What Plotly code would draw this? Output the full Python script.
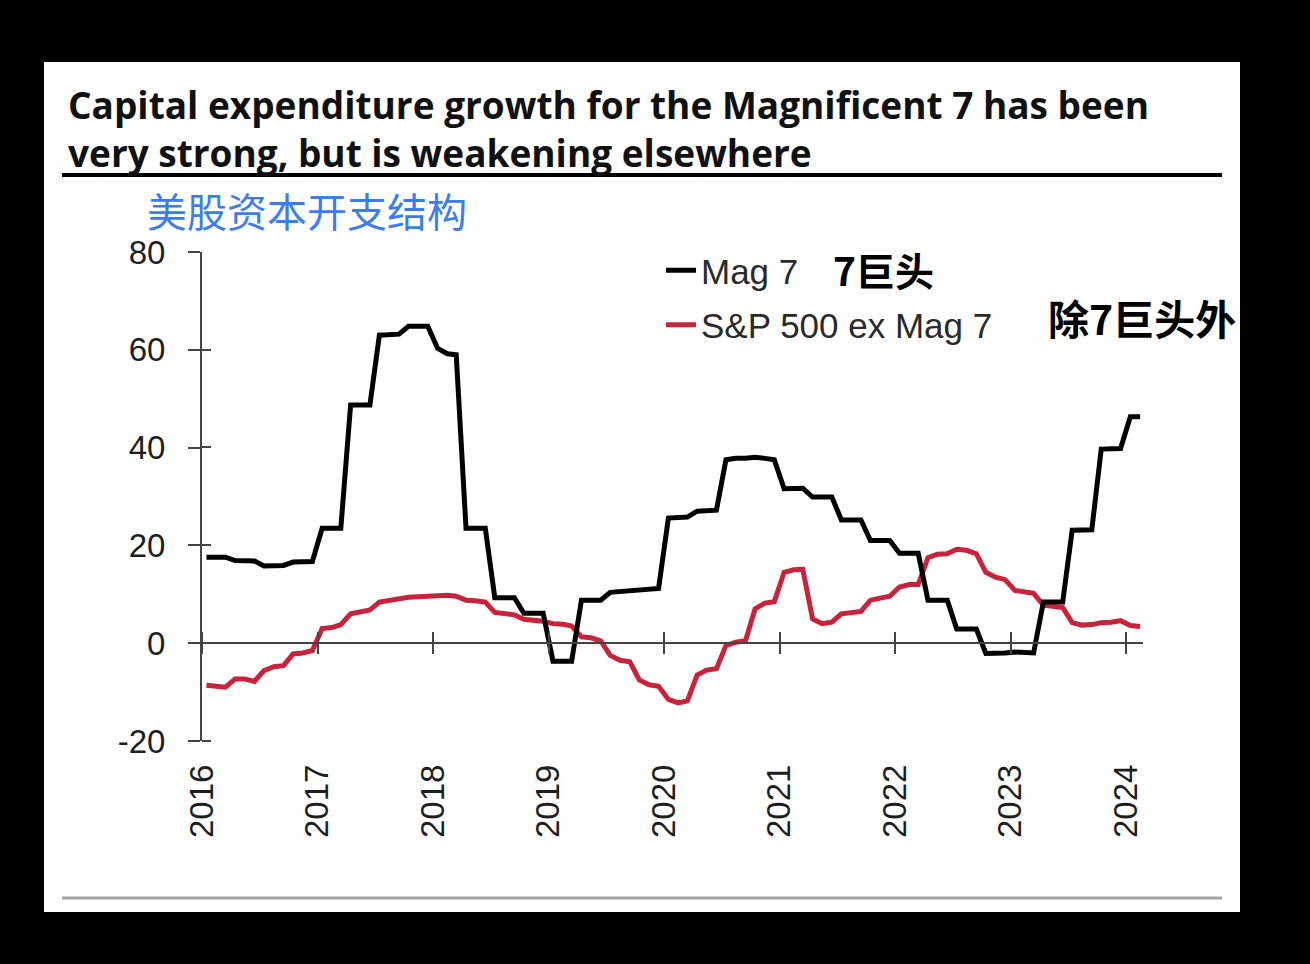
import pandas as pd
import plotly.graph_objects as go

# ---------------- data ----------------
months = (pd.date_range("2016-01-01", periods=98, freq="MS") + pd.Timedelta(days=14)).strftime("%Y-%m-%d").tolist()

mag7 = [17.6, 17.6, 17.6, 16.9, 16.8, 16.8, 15.8, 15.8, 15.9, 16.6, 16.7, 16.7,
        23.5, 23.5, 23.5, 48.7, 48.7, 48.7, 63.0, 63.0, 63.2, 64.8, 64.8, 64.8,
        60.3, 59.2, 59.0, 23.5, 23.5, 23.5, 9.3, 9.3, 9.3, 6.1, 6.1, 6.1,
        -3.7, -3.7, -3.7, 8.8, 8.8, 8.8, 10.4, 10.6, 10.6, 11.0, 11.2, 11.2,
        25.6, 25.6, 25.8, 27.0, 27.0, 27.2, 37.5, 37.8, 37.8, 38.0, 37.8, 37.5,
        31.6, 31.7, 31.7, 29.9, 29.9, 29.9, 25.2, 25.2, 25.2, 21.0, 21.0, 21.0,
        18.4, 18.4, 18.4, 8.8, 8.8, 8.8, 2.9, 2.9, 2.9, -2.1, -2.1, -2.0,
        -1.8, -1.8, -2.0, 8.4, 8.4, 8.4, 23.1, 23.1, 23.2, 39.7, 39.8, 39.8,
        46.3, 46.3]

sp500_ex_mag7 = [-8.6, -8.7, -9.0, -7.3, -7.3, -7.8, -5.6, -4.8, -4.6, -2.2, -2.0, -1.5,
                 3.0, 3.2, 3.8, 6.0, 6.3, 6.8, 8.4, 8.8, 9.2, 9.4, 9.5, 9.6,
                 9.7, 9.8, 9.6, 8.8, 8.7, 8.4, 6.3, 6.1, 5.8, 4.9, 4.7, 4.5,
                 4.0, 3.9, 3.5, 1.3, 1.1, 0.5, -2.5, -3.5, -3.8, -7.5, -8.5, -8.8,
                 -11.5, -12.2, -11.8, -6.5, -5.5, -5.2, -0.5, 0.2, 0.5, 7.0, 8.2, 8.5,
                 14.5, 15.0, 15.1, 5.0, 4.0, 4.3, 6.0, 6.3, 6.5, 8.8, 9.3, 9.6,
                 11.5, 12.0, 12.0, 17.5, 18.2, 18.3, 19.2, 19.0, 18.3, 14.5, 13.5, 13.0,
                 10.8, 10.4, 10.2, 7.8, 7.5, 7.3, 4.2, 3.7, 3.8, 4.2, 4.3, 4.6,
                 3.6, 3.4]

year_labels = ["2016", "2017", "2018", "2019", "2020", "2021", "2022", "2023", "2024"]
year_ticks = [f"{y}-01-01" for y in year_labels]
year_ticks_minor = [f"{y}-01-02" for y in year_labels]
y_ticks = [-20, 0, 20, 40, 60, 80]
y_ticktext = ["-20", "0", "20", "40", "60", "80"]
x_range = ["2016-01-01", "2024-02-24"]
y_range = [-20, 80]

title_text = ("Capital expenditure growth for the Magnificent 7 has been<br>"
              "very strong, but is weakening elsewhere")
subtitle_cn = "美股资本开支结构"
note_mag7 = "7巨头"
note_ex = "除7巨头外"

# ---------------- geometry ----------------
W, H = 1310, 964
PL, PR, PT, PB = 202, 1143, 252, 741


def px(x):
    return x / W


def py(y):
    return 1 - y / H


AX = "#444444"
TICKFONT = dict(family="Liberation Sans, Arial, sans-serif", size=33, color="#1e1e1e")

fig = go.Figure()
fig.add_trace(go.Scatter(x=months, y=mag7, mode="lines", name="Mag 7",
                         legendgroup="a", xaxis="x2", yaxis="y",
                         line=dict(color="#000000", width=5)))
fig.add_trace(go.Scatter(x=months, y=sp500_ex_mag7, mode="lines", name="S&P 500 ex Mag 7",
                         legendgroup="b", xaxis="x", yaxis="y",
                         line=dict(color="#c8233b", width=5)))

zero_pos = py(PB) + (0 - y_range[0]) / (y_range[1] - y_range[0]) * (py(PT) - py(PB))

fig.update_layout(
    width=W, height=H,
    margin=dict(l=0, r=0, t=0, b=0, pad=0, autoexpand=False),
    paper_bgcolor="#000000",
    plot_bgcolor="rgba(0,0,0,0)",
    showlegend=True,
    legend=dict(x=px(661), y=py(241), xanchor="left", yanchor="top",
                bgcolor="rgba(0,0,0,0)", tracegroupgap=6,
                font=dict(family="Liberation Sans, Arial, sans-serif", size=35, color="#2a2a2a")),
    xaxis=dict(type="date", domain=[px(PL), px(PR)], range=x_range, anchor="y",
               automargin=False,
               tickmode="array", tickvals=year_ticks, ticktext=year_labels,
               tickangle=-90, ticks="", showline=False, showgrid=False, zeroline=False,
               tickfont=TICKFONT, ticklabelstandoff=16),
    xaxis2=dict(type="date", overlaying="x", anchor="free", position=zero_pos,
                automargin=False,
                range=x_range, tickmode="array", tickvals=year_ticks,
                showticklabels=False, showgrid=False, zeroline=False,
                showline=True, linecolor=AX, linewidth=2,
                ticks="outside", ticklen=10, tickwidth=2, tickcolor=AX,
                minor=dict(ticks="inside", ticklen=10, tickwidth=2, tickcolor=AX,
                           tickvals=year_ticks_minor, showgrid=False)),
    yaxis=dict(domain=[py(PB), py(PT)], range=y_range, anchor="x",
               automargin=False,
               tickmode="array", tickvals=y_ticks, ticktext=y_ticktext,
               showline=True, linecolor=AX, linewidth=2,
               ticks="outside", ticklen=12, tickwidth=2, tickcolor=AX,
               minor=dict(ticks="inside", ticklen=9, tickwidth=2, tickcolor=AX,
                          tickvals=[v + 0.05 for v in y_ticks], showgrid=False),
               showgrid=False, zeroline=False,
               tickfont=TICKFONT, ticklabelstandoff=16),
    shapes=[
        dict(type="rect", xref="paper", yref="paper", x0=px(44), x1=px(1240),
             y0=py(912), y1=py(62), fillcolor="#ffffff", line=dict(width=0), layer="below"),
        dict(type="line", xref="paper", yref="paper", x0=px(62), x1=px(1222),
             y0=py(175), y1=py(175), line=dict(color="#000000", width=4)),
        dict(type="line", xref="paper", yref="paper", x0=px(62), x1=px(1222),
             y0=py(898), y1=py(898), line=dict(color="#a3a3a3", width=3)),
    ],
    annotations=[
        dict(text=title_text, xref="paper", yref="paper", x=px(66), y=py(77),
             xanchor="left", yanchor="top", align="left", showarrow=False,
             font=dict(family="Open Sans, sans-serif", size=37, color="#111111", weight="bold")),
        dict(text=subtitle_cn, xref="paper", yref="paper", x=px(145), y=py(210),
             xanchor="left", yanchor="middle", showarrow=False,
             font=dict(family="Noto Sans CJK SC", size=40, color="#3b7ded")),
        dict(text=note_mag7, xref="paper", yref="paper", x=px(831), y=py(269),
             xanchor="left", yanchor="middle", showarrow=False,
             font=dict(family="Noto Sans CJK SC", size=39, color="#000000", weight="bold")),
        dict(text=note_ex, xref="paper", yref="paper", x=px(1046), y=py(317),
             xanchor="left", yanchor="middle", showarrow=False,
             font=dict(family="Noto Sans CJK SC", size=41, color="#000000", weight="bold")),
    ],
)

fig.write_html("out.html", config={"displayModeBar": False},
               post_script="document.body.style.margin='0px';")
